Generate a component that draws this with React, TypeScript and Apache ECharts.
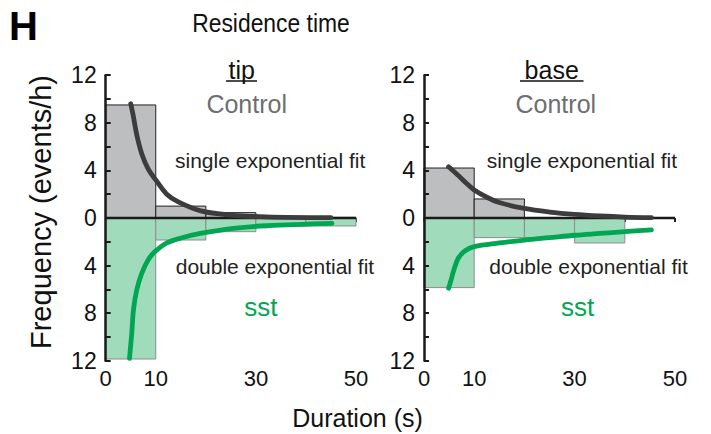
import React, { useEffect, useRef } from "react";
import * as echarts from "echarts";

// Histogram bins (s)
const binStarts = [0, 10, 20, 30, 40];
const binWidth = 10;

// Residence-time frequencies (events/h); sst plotted downward as negatives
const tipControl = [9.5, 1.0, 0.45, 0.1, 0.05];
const tipSst = [-11.85, -1.85, -1.15, -0.67, -0.67];
const baseControl = [4.2, 1.6, 0, 0, 0];
const baseSst = [-5.85, -1.65, -1.65, -2.1, 0];

// Fitted curves, [duration, frequency]
const tipControlFit = [
  [5, 9.6], [5.5, 8.6], [6.2, 7.0], [7.2, 5.4], [8.5, 4.1], [10, 3.2],
  [12.2, 2.0], [14.5, 1.35], [19, 0.6], [25, 0.25], [32, 0.1], [45, 0.03],
];
const tipSstFit = [
  [4.75, -11.8], [5.2, -9.7], [5.55, -7.7], [6.2, -6.05], [7.2, -4.65],
  [8.5, -3.5], [9.9, -2.8], [12.2, -2.1], [14.9, -1.7], [18.9, -1.3],
  [25.5, -0.87], [32.2, -0.65], [45.2, -0.45],
];
const baseControlFit = [
  [4.9, 4.3], [7, 3.5], [8.5, 2.9], [10, 2.35], [12.5, 1.75], [15, 1.3],
  [20, 0.8], [25, 0.5], [30, 0.3], [35, 0.17], [40, 0.08], [45.3, 0.03],
];
const baseSstFit = [
  [4.9, -5.9], [5.4, -5.2], [5.85, -4.5], [6.8, -3.4], [8.2, -2.75],
  [10, -2.4], [15, -2.1], [20, -1.85], [25, -1.65], [30, -1.45],
  [35, -1.3], [40, -1.15], [45.3, -1.0],
];

const xTicks = [0, 10, 30, 50];
const zeroLine = [[0, 0], [50, 0]];

const FONT = "'Liberation Sans', Arial, Helvetica, sans-serif";
const GRAY_FILL = "#bcbec0";
const GREEN_FILL = "#a0dcbc";
const DARK_CURVE = "#3c3c3c";
const GREEN_CURVE = "#00a651";

function binData(values: number[]) {
  return values
    .map((v, i) => [binStarts[i], binStarts[i] + binWidth, v])
    .filter((d) => d[2] !== 0);
}

function barSeries(idx: number, values: number[], fill: string, stroke: string) {
  return {
    type: "custom",
    xAxisIndex: idx,
    yAxisIndex: idx,
    z: 2,
    encode: { x: [0, 1], y: 2 },
    data: binData(values),
    renderItem: (_p: any, api: any) => {
      const a = api.coord([api.value(0), 0]);
      const b = api.coord([api.value(1), api.value(2)]);
      return {
        type: "rect",
        shape: {
          x: a[0],
          y: Math.min(a[1], b[1]),
          width: b[0] - a[0],
          height: Math.abs(b[1] - a[1]),
        },
        style: { fill, stroke, lineWidth: 1 },
      };
    },
  };
}

function curveSeries(idx: number, data: number[][], color: string) {
  return {
    type: "line",
    xAxisIndex: idx,
    yAxisIndex: idx,
    z: 4,
    data,
    smooth: 0.35,
    showSymbol: false,
    lineStyle: { color, width: 4.8, cap: "round", join: "round" },
  };
}

function zeroSeries(idx: number) {
  return {
    type: "line",
    xAxisIndex: idx,
    yAxisIndex: idx,
    z: 3,
    data: zeroLine,
    showSymbol: false,
    lineStyle: { color: "#1a1a1a", width: 2.5 },
  };
}

function xAxis(idx: number) {
  return {
    type: "value",
    gridIndex: idx,
    min: 0,
    max: 50,
    interval: 10,
    axisLine: { show: false },
    axisTick: { show: true, length: 4, lineStyle: { color: "#222", width: 2 } },
    splitLine: { show: false },
    axisLabel: {
      fontFamily: FONT,
      fontSize: 22,
      color: "#111",
      margin: 7,
      formatter: (v: number) => (xTicks.includes(v) ? String(v) : ""),
    },
  };
}

function yAxis(idx: number) {
  return {
    type: "value",
    gridIndex: idx,
    min: -12,
    max: 12,
    interval: 2,
    z: 6,
    axisLine: { show: true, lineStyle: { color: "#1a1a1a", width: 2.5 } },
    axisTick: { show: true, inside: true, length: 5, lineStyle: { color: "#1a1a1a", width: 2 } },
    splitLine: { show: false },
    axisLabel: {
      fontFamily: FONT,
      fontSize: 23,
      color: "#111",
      margin: 9,
      formatter: (v: number) => (v % 4 === 0 ? String(Math.abs(v)) : ""),
    },
  };
}

function label(text: string, x: number, y: number, size: number, color: string, align = "center", extra: any = {}) {
  const el: any = {
    type: "text",
    x,
    y,
    z: 10,
    style: {
      text,
      fill: color,
      font: `${extra.bold ? "bold " : ""}${size}px ${FONT}`,
      textAlign: align,
      textVerticalAlign: "middle",
    },
  };
  if (extra.rotation !== undefined) el.rotation = extra.rotation;
  if (extra.scaleX !== undefined) el.scaleX = extra.scaleX;
  return el;
}

function underline(x1: number, x2: number, y: number) {
  return {
    type: "line",
    z: 10,
    shape: { x1, y1: y, x2, y2: y },
    style: { stroke: "#111", lineWidth: 1.5 },
  };
}

export default function App() {
  const ref = useRef<HTMLDivElement>(null);

  useEffect(() => {
    if (!ref.current) return;
    const chart = echarts.init(ref.current, undefined, { renderer: "svg" });
    chart.setOption({
      animation: false,
      backgroundColor: "#ffffff",
      grid: [
        { left: 105.7, top: 75.2, width: 250.3, height: 285.6 },
        { left: 424, top: 75.2, width: 251, height: 285.6 },
      ],
      xAxis: [xAxis(0), xAxis(1)],
      yAxis: [yAxis(0), yAxis(1)],
      series: [
        barSeries(0, tipControl, GRAY_FILL, "#231f20"),
        barSeries(0, tipSst, GREEN_FILL, "#8c8c8c"),
        barSeries(1, baseControl, GRAY_FILL, "#231f20"),
        barSeries(1, baseSst, GREEN_FILL, "#8c8c8c"),
        zeroSeries(0),
        zeroSeries(1),
        curveSeries(0, tipControlFit, DARK_CURVE),
        curveSeries(0, tipSstFit, GREEN_CURVE),
        curveSeries(1, baseControlFit, DARK_CURVE),
        curveSeries(1, baseSstFit, GREEN_CURVE),
      ],
      graphic: [
        label("H", 9, 26, 40, "#000", "left", { bold: true }),
        label("Residence time", 271, 23, 26, "#111", "center", { scaleX: 0.88 }),
        label("Frequency (events/h)", 41, 212, 29, "#111", "center", { rotation: Math.PI / 2 }),
        label("Duration (s)", 357.5, 418, 25, "#111"),
        // tip panel
        label("tip", 241.7, 69.5, 25, "#111"),
        underline(226, 257, 81),
        label("Control", 246.7, 104.2, 25, "#6d6e71"),
        label("single exponential fit", 175, 160, 21, "#231f20", "left"),
        label("double exponential fit", 175.7, 266.5, 21, "#231f20", "left"),
        label("sst", 260.8, 307.4, 26, GREEN_CURVE),
        // base panel
        label("base", 551.7, 69.5, 25, "#111"),
        underline(520, 583.5, 81),
        label("Control", 555.8, 104.2, 25, "#6d6e71"),
        label("single exponential fit", 486.7, 160, 21, "#231f20", "left"),
        label("double exponential fit", 489.3, 266.5, 21, "#231f20", "left"),
        label("sst", 577.5, 307.4, 26, GREEN_CURVE),
      ],
    });
    return () => chart.dispose();
  }, []);

  return (
    <div
      ref={ref}
      style={{ position: "fixed", left: 0, top: 0, width: 711, height: 434, background: "#fff" }}
    />
  );
}
